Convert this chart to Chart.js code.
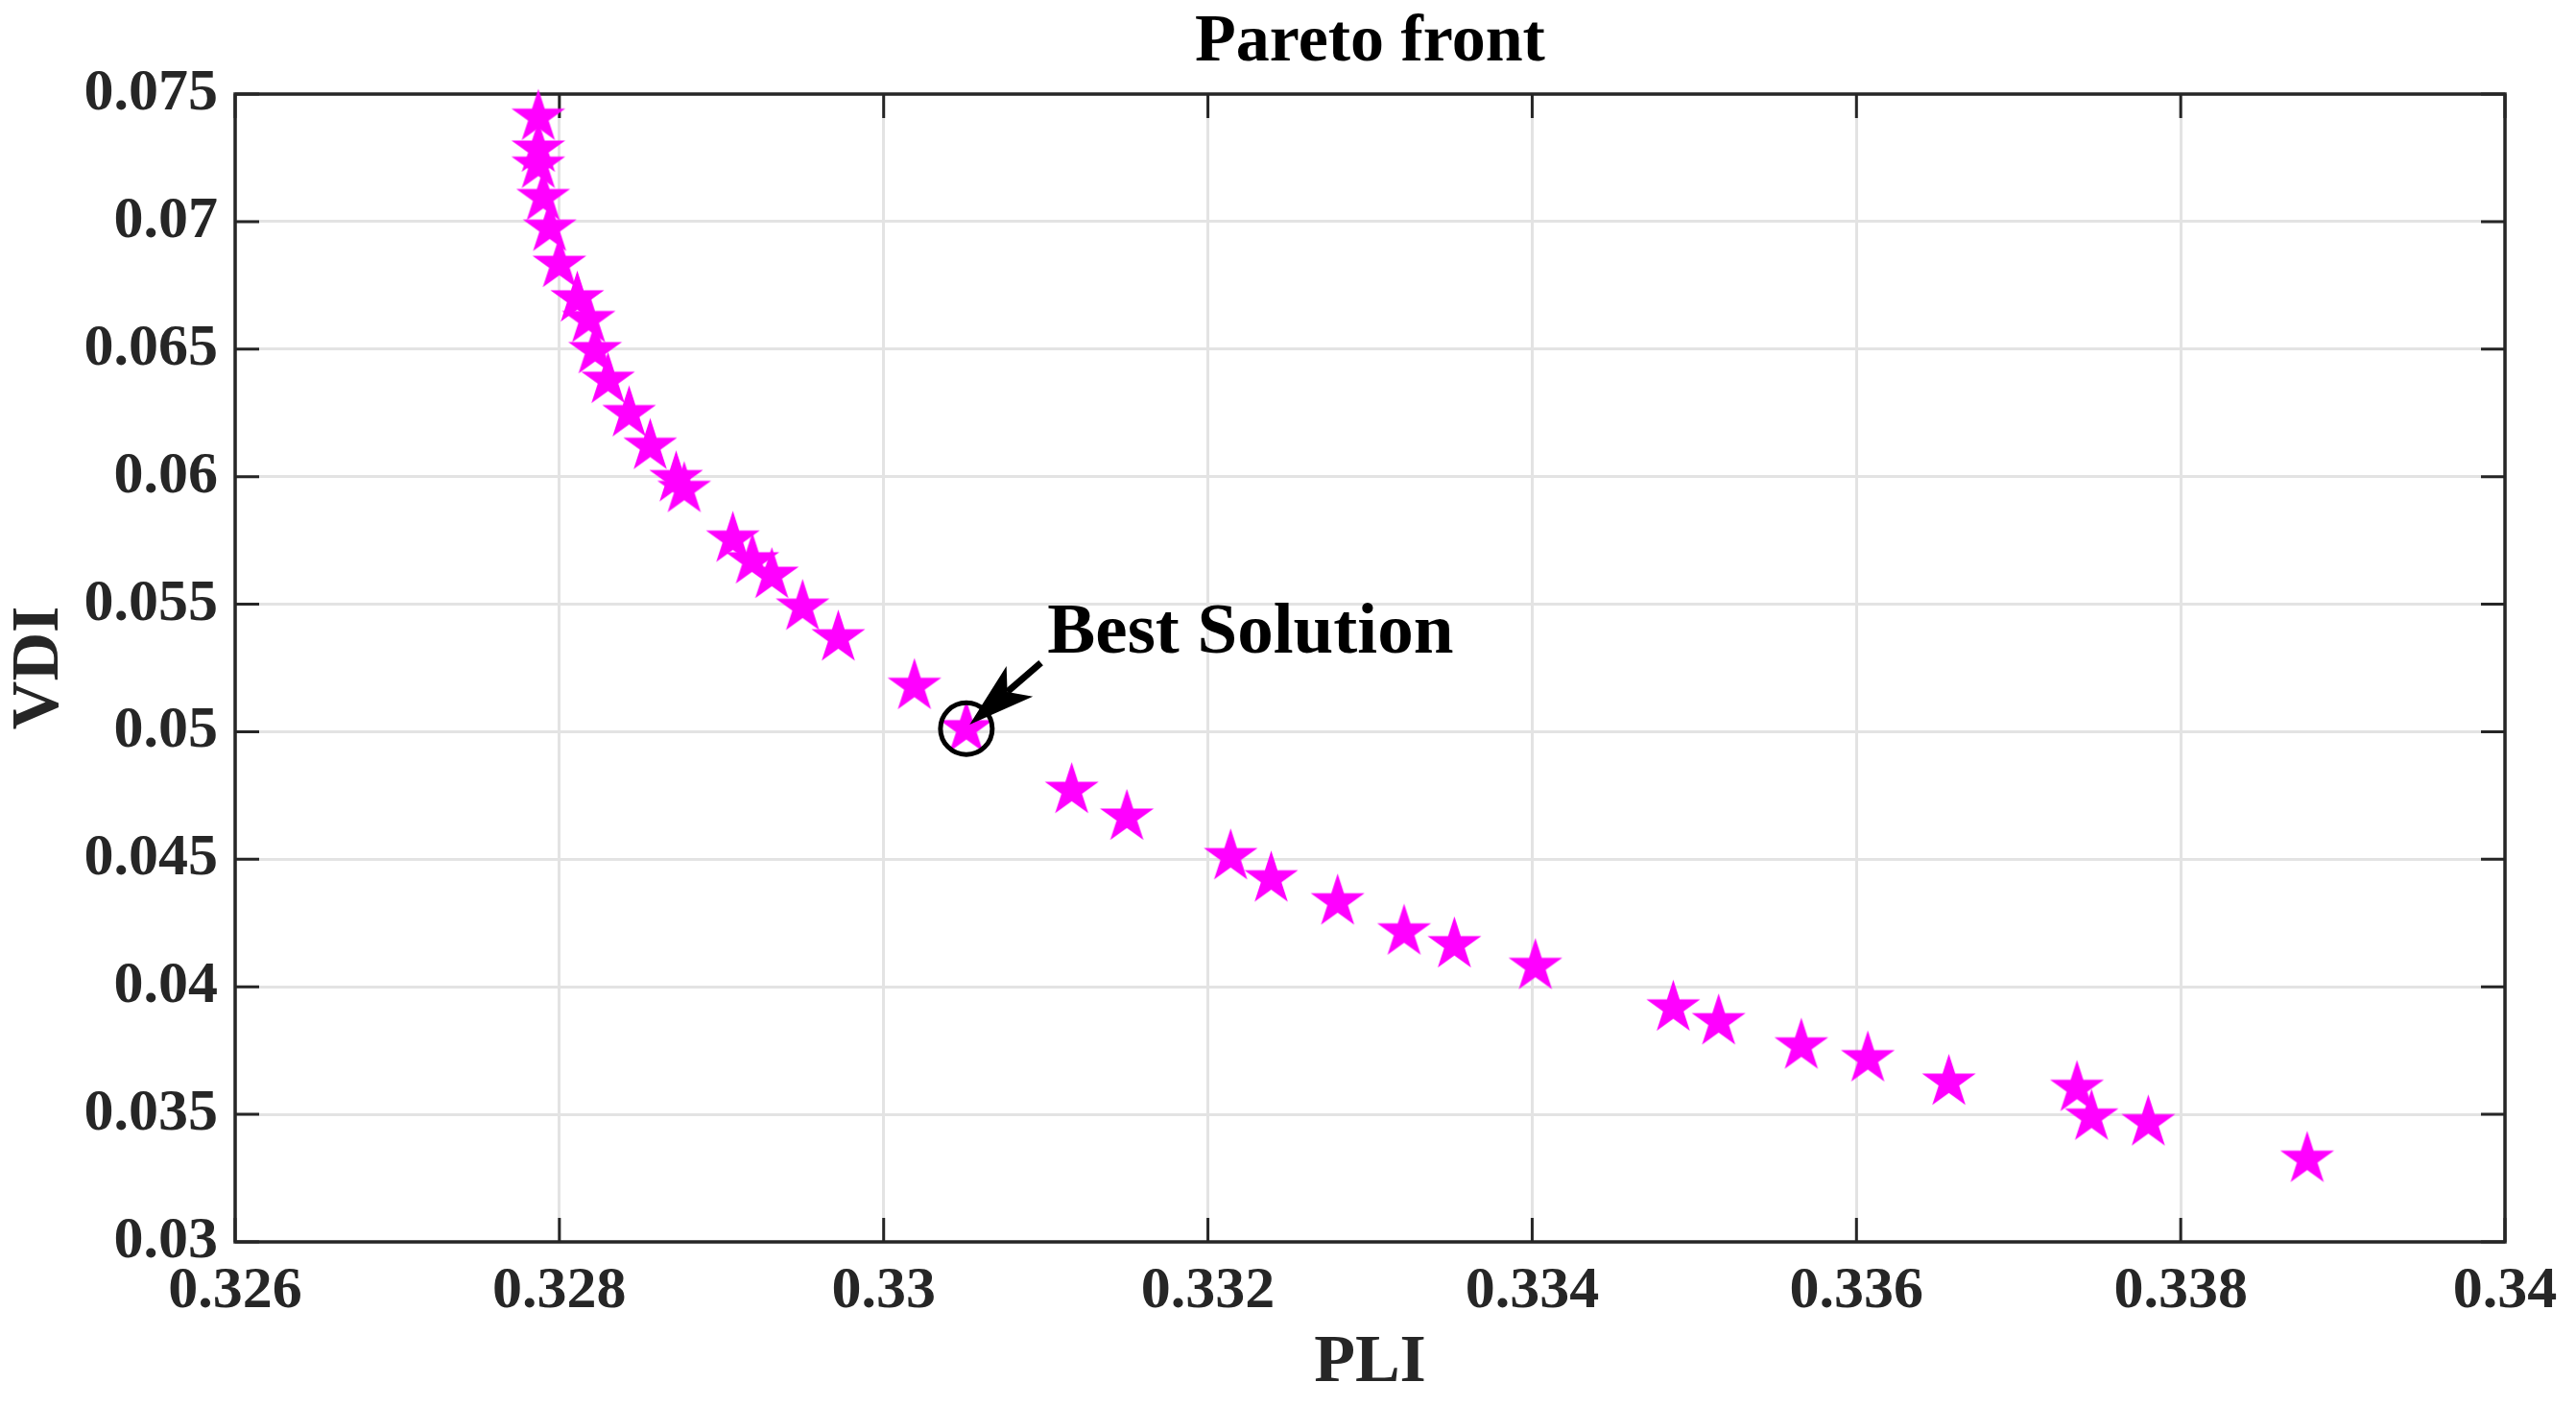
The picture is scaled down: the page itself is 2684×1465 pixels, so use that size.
<!DOCTYPE html>
<html lang="en">
<head>
    <meta charset="UTF-8">
    <title>Pareto front</title>
    <script src="https://cdn.jsdelivr.net/npm/chart.js"></script>
    <style>
        html, body { margin: 0; padding: 0; background: #fff; }
        #wrap { width: 2684px; height: 1465px; }
    </style>
</head>
<body>
    <div id="wrap"><canvas id="pareto" width="2684" height="1465"></canvas></div>
    <script>
        // Pareto front points
        const pli = [0.32787, 0.32787, 0.32787, 0.32790, 0.32794, 0.32800, 0.32811, 0.32818, 0.32822, 0.32830,
                     0.32843, 0.32856, 0.32872, 0.32877, 0.32907, 0.32919, 0.32931, 0.32950, 0.32972, 0.33019,
                     0.33051, 0.33116, 0.33150, 0.33214, 0.33239, 0.33280, 0.33321, 0.33352, 0.33402, 0.33487,
                     0.33515, 0.33566, 0.33607, 0.33657, 0.33736, 0.33745, 0.33780, 0.33878];
        const vdi = [0.07409, 0.07284, 0.07221, 0.07094, 0.06974, 0.06832, 0.06697, 0.06616, 0.06494, 0.06378,
                     0.06247, 0.06119, 0.05992, 0.05950, 0.05755, 0.05670, 0.05613, 0.05488, 0.05368, 0.05178,
                     0.05012, 0.04770, 0.04665, 0.04510, 0.04423, 0.04333, 0.04215, 0.04165, 0.04080, 0.03917,
                     0.03863, 0.03768, 0.03718, 0.03626, 0.03602, 0.03489, 0.03467, 0.03324];

        const bestPli = [0.33051];
        const bestVdi = [0.05012];

        const xTicks = [0.326, 0.328, 0.330, 0.332, 0.334, 0.336, 0.338, 0.340];
        const xTickLabels = ['0.326', '0.328', '0.33', '0.332', '0.334', '0.336', '0.338', '0.34'];
        const yTicks = [0.030, 0.035, 0.040, 0.045, 0.050, 0.055, 0.060, 0.065, 0.070, 0.075];
        const yTickLabels = ['0.03', '0.035', '0.04', '0.045', '0.05', '0.055', '0.06', '0.065', '0.07', '0.075'];

        // annotation anchor points (data units)
        const arrowFrom = [0.33097, 0.05270];
        const arrowTo = [0.33053, 0.05028];
        const labelAt = [0.33101, 0.05310];

        const serif = "'Liberation Serif', 'Times New Roman', serif";
        const axisColor = '#262626';

        // filled five point star, like matlab's pentagram marker
        function makeStar(R, color) {
            const c = document.createElement('canvas');
            const size = Math.ceil(2 * R + 4);
            c.width = size;
            c.height = size;
            const g = c.getContext('2d');
            const r = R * 0.382;
            g.translate(size / 2, size / 2);
            g.beginPath();
            for (let i = 0; i < 10; i++) {
                const rad = (i % 2 === 0) ? R : r;
                const ang = -Math.PI / 2 + i * Math.PI / 5;
                const px = rad * Math.cos(ang), py = rad * Math.sin(ang);
                if (i === 0) g.moveTo(px, py); else g.lineTo(px, py);
            }
            g.closePath();
            g.fillStyle = color;
            g.fill();
            return c;
        }
        const star = makeStar(29.5, '#ff00ff');

        // box round the axes with inward ticks on all four sides
        const frame = {
            id: 'frame',
            afterLayout(chart) {
                // centre the title over the plot area, not the whole canvas
                if (chart.titleBlock) {
                    chart.titleBlock.left = chart.chartArea.left;
                    chart.titleBlock.right = chart.chartArea.right;
                }
            },
            beforeDatasetsDraw(chart) {
                const { ctx, chartArea: a, scales: { x, y } } = chart;
                const len = 25;
                ctx.save();
                ctx.strokeStyle = axisColor;
                ctx.lineWidth = 3;
                ctx.beginPath();
                xTicks.forEach(v => {
                    const px = x.getPixelForValue(v);
                    ctx.moveTo(px, a.bottom); ctx.lineTo(px, a.bottom - len);
                    ctx.moveTo(px, a.top); ctx.lineTo(px, a.top + len);
                });
                yTicks.forEach(v => {
                    const py = y.getPixelForValue(v);
                    ctx.moveTo(a.left, py); ctx.lineTo(a.left + len, py);
                    ctx.moveTo(a.right, py); ctx.lineTo(a.right - len, py);
                });
                ctx.stroke();
                ctx.lineWidth = 3.5;
                ctx.strokeRect(a.left, a.top, a.right - a.left, a.bottom - a.top);
                ctx.restore();
            }
        };

        // arrow + "Best Solution" text
        const bestNote = {
            id: 'bestNote',
            afterDatasetsDraw(chart) {
                const { ctx, scales: { x, y } } = chart;
                const x0 = x.getPixelForValue(arrowFrom[0]), y0 = y.getPixelForValue(arrowFrom[1]);
                const x1 = x.getPixelForValue(arrowTo[0]), y1 = y.getPixelForValue(arrowTo[1]);
                const len = Math.hypot(x0 - x1, y0 - y1);
                const ux = (x0 - x1) / len, uy = (y0 - y1) / len;
                const nx = -uy, ny = ux;
                const headLen = 69, notch = 52, half = 21;
                ctx.save();
                ctx.strokeStyle = '#000';
                ctx.fillStyle = '#000';
                ctx.lineWidth = 7;
                ctx.beginPath();
                ctx.moveTo(x0, y0);
                ctx.lineTo(x1 + ux * notch, y1 + uy * notch);
                ctx.stroke();
                ctx.beginPath();
                ctx.moveTo(x1, y1);
                ctx.lineTo(x1 + ux * headLen + nx * half, y1 + uy * headLen + ny * half);
                ctx.lineTo(x1 + ux * notch, y1 + uy * notch);
                ctx.lineTo(x1 + ux * headLen - nx * half, y1 + uy * headLen - ny * half);
                ctx.closePath();
                ctx.fill();

                ctx.font = 'bold 75px ' + serif;
                ctx.textAlign = 'left';
                ctx.textBaseline = 'alphabetic';
                ctx.fillText('Best Solution', x.getPixelForValue(labelAt[0]), y.getPixelForValue(labelAt[1]));
                ctx.restore();
            }
        };

        const ctx = document.getElementById('pareto').getContext('2d');
        new Chart(ctx, {
            type: 'scatter',
            data: {
                datasets: [
                    {
                        label: 'Best Solution',
                        data: bestPli.map((v, i) => ({ x: v, y: bestVdi[i] })),
                        pointStyle: 'circle',
                        pointRadius: 27,
                        pointBorderWidth: 5,
                        pointBorderColor: '#000',
                        pointBackgroundColor: 'rgba(0,0,0,0)',
                        clip: false
                    },
                    {
                        label: 'Pareto front',
                        data: pli.map((v, i) => ({ x: v, y: vdi[i] })),
                        pointStyle: star,
                        pointRadius: 30,
                        clip: false
                    }
                ]
            },
            options: {
                responsive: false,
                animation: false,
                devicePixelRatio: 1,
                layout: { padding: { left: 0, right: 74, top: 0, bottom: 0 } },
                plugins: {
                    legend: { display: false },
                    tooltip: { enabled: false },
                    title: {
                        display: true,
                        text: 'Pareto front',
                        color: '#000',
                        font: { family: serif, size: 70, weight: 'bold', lineHeight: 1.2 },
                        padding: { top: 3, bottom: 11 }
                    }
                },
                scales: {
                    x: {
                        type: 'linear',
                        min: 0.326,
                        max: 0.34,
                        afterBuildTicks: scale => { scale.ticks = xTicks.map(v => ({ value: v })); },
                        afterFit: scale => { scale.height = 171; },
                        grid: { color: '#e3e3e3', lineWidth: 3, drawTicks: false },
                        border: { display: false },
                        ticks: {
                            padding: 15,
                            color: axisColor,
                            maxRotation: 0,
                            font: { family: serif, size: 62, weight: 'bold', lineHeight: 1.2 },
                            callback: (v, i) => xTickLabels[i]
                        },
                        title: {
                            display: true,
                            text: 'PLI',
                            color: axisColor,
                            font: { family: serif, size: 70, weight: 'bold', lineHeight: 1.2 },
                            padding: { top: 0, bottom: 2 }
                        }
                    },
                    y: {
                        type: 'linear',
                        min: 0.03,
                        max: 0.075,
                        afterBuildTicks: scale => { scale.ticks = yTicks.map(v => ({ value: v })); },
                        afterFit: scale => { scale.width = 245; },
                        grid: { color: '#e3e3e3', lineWidth: 3, drawTicks: false },
                        border: { display: false },
                        ticks: {
                            padding: 18,
                            color: axisColor,
                            font: { family: serif, size: 62, weight: 'bold', lineHeight: 1.2 },
                            callback: (v, i) => yTickLabels[i]
                        },
                        title: {
                            display: true,
                            text: 'VDI',
                            color: axisColor,
                            font: { family: serif, size: 70, weight: 'bold', lineHeight: 1.2 },
                            padding: { top: 0, bottom: 0 }
                        }
                    }
                }
            },
            plugins: [frame, bestNote]
        });
    </script>
</body>
</html>
